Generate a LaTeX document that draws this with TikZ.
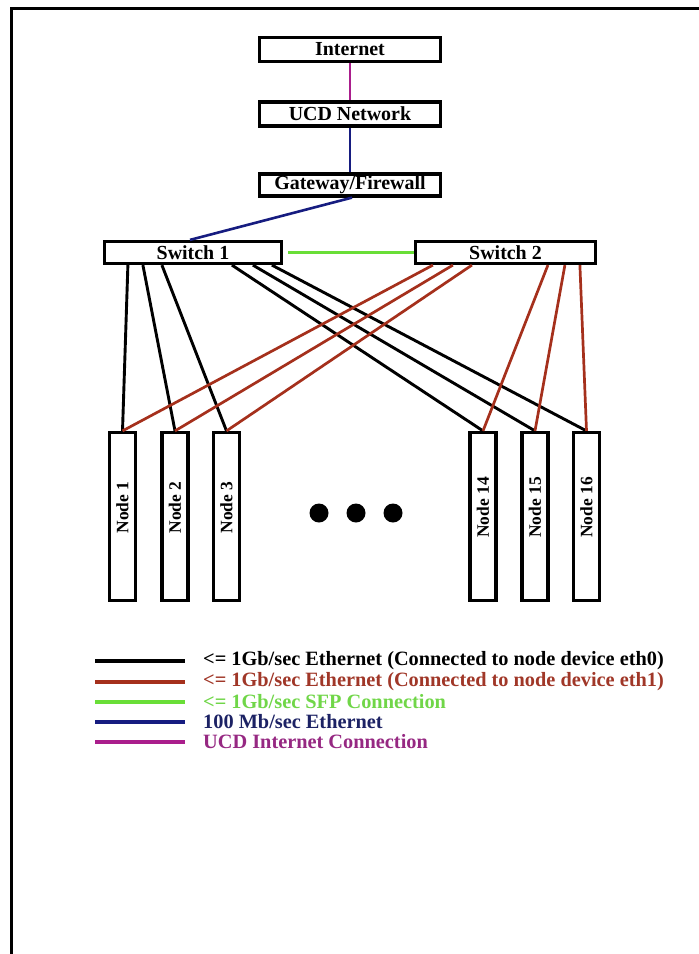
\documentclass[tikz,border=0pt]{standalone}
\usepackage{fontspec}
\setmainfont{Liberation Serif}
\definecolor{ethred}{RGB}{165,48,28}
\definecolor{sfpgreen}{RGB}{105,222,55}
\definecolor{navyline}{RGB}{22,28,128}
\definecolor{inetmag}{RGB}{170,30,140}
\definecolor{ethredtxt}{RGB}{160,55,40}
\definecolor{sfpgreentxt}{RGB}{112,214,72}
\definecolor{navytxt}{RGB}{28,34,100}
\definecolor{inetmagtxt}{RGB}{150,40,130}
\tikzset{
  box/.style={draw, line width=3.2bp, fill=white, inner sep=0pt,
    font=\fontsize{20}{22}\selectfont\bfseries},
  topbox/.style={box, minimum width=181bp, minimum height=24bp},
  swbox/.style={box, minimum height=22bp},
  hostbox/.style={draw, line width=3.2bp, fill=white, inner sep=0pt,
    minimum width=26bp, minimum height=168bp},
  hostlabel/.style={rotate=90, inner sep=0pt,
    font=\fontsize{17.5}{20}\selectfont\bfseries},
  eth0/.style={draw=black, line width=2.9bp},
  eth1/.style={draw=ethred, line width=2.7bp},
  sfp/.style={draw=sfpgreen, line width=2.8bp},
  mbit/.style={draw=navyline, line width=2.6bp},
  inet/.style={draw=inetmag, line width=2.6bp},
  keyline/.style={line width=3.4bp},
  keytext/.style={anchor=west, inner sep=0pt,
    font=\fontsize{20.4}{22}\selectfont\bfseries},
  dot/.style={circle, fill=black, inner sep=0pt, minimum size=19bp}
}
\begin{document}
\begin{tikzpicture}[x=1bp, y=-1bp]
\useasboundingbox (0,0) rectangle (699,954);
% page frame (top and left edges)
\draw[line width=3bp] (11.5,954) -- (11.5,8.5) -- (699,8.5);

% upstream chain
\node[topbox] (inet) at (350,49.5) {Internet};
\node[topbox] (ucd)  at (350,114) {UCD Network};
\node[topbox, minimum height=22bp] (gw) at (350,185) {Gateway/Firewall};

% switches
\node[swbox, minimum width=177bp] (sw1) at (193,252.5) {Switch 1};
\node[swbox, minimum width=180bp] (sw2) at (505.5,252.5) {Switch 2};

% compute nodes
\foreach \n/\x in {1/122.5, 2/175, 3/226.5, 14/483, 15/535, 16/586.5}{
  \node[hostbox] (n\n) at (\x,516.5) {};
  \node[hostlabel] (n\n t) at ([yshift=9bp]n\n.center) {Node \n};
}

% ellipsis dots
\node[dot] (d1) at (319,513) {};
\node[dot] (d2) at (356,513) {};
\node[dot] (d3) at (393,513) {};

% links
\draw[inet] (inet.south) -- (ucd.north);
\draw[mbit] (ucd.south) -- (gw.north);
\draw[mbit] ([xshift=2bp]gw.south) -- ([xshift=-3bp]sw1.north);
\draw[sfp, shorten <=5bp] (sw1.east) -- (sw2.west);

% eth0 links from switch 1
\draw[eth0] ([xshift=25bp]sw1.south west) -- (n1.north);
\draw[eth0] ([xshift=40bp]sw1.south west) -- (n2.north);
\draw[eth0] ([xshift=59bp]sw1.south west) -- (n3.north);
\draw[eth0] ([xshift=129bp]sw1.south west) -- (n14.north);
\draw[eth0] ([xshift=150bp]sw1.south west) -- (n15.north);
\draw[eth0] ([xshift=169bp]sw1.south west) -- (n16.north);

% eth1 links from switch 2
\draw[eth1] ([xshift=19bp]sw2.south west) -- (n1.north);
\draw[eth1] ([xshift=39bp]sw2.south west) -- (n2.north);
\draw[eth1] ([xshift=58bp]sw2.south west) -- (n3.north);
\draw[eth1] ([xshift=134bp]sw2.south west) -- (n14.north);
\draw[eth1] ([xshift=151bp]sw2.south west) -- (n15.north);
\draw[eth1] ([xshift=166bp]sw2.south west) -- (n16.north);

% legend
\foreach \k/\y/\col in {1/661/black, 2/682/ethred, 3/702/sfpgreen,
                        4/722/navyline, 5/742/inetmag}{
  \coordinate (k\k a) at (95,\y);
  \coordinate (k\k b) at (185,\y);
  \draw[keyline, draw=\col] (k\k a) -- (k\k b);
}
\node[keytext] (k1t) at (203,661) {<= 1Gb/sec Ethernet (Connected to node device eth0)};
\node[keytext, text=ethredtxt] (k2t) at (203,682) {<= 1Gb/sec Ethernet (Connected to node device eth1)};
\node[keytext, text=sfpgreentxt] (k3t) at (203,702) {<= 1Gb/sec SFP Connection};
\node[keytext, text=navytxt] (k4t) at (203,722) {100 Mb/sec Ethernet};
\node[keytext, text=inetmagtxt] (k5t) at (203,742) {UCD Internet Connection};
\end{tikzpicture}
\end{document}
